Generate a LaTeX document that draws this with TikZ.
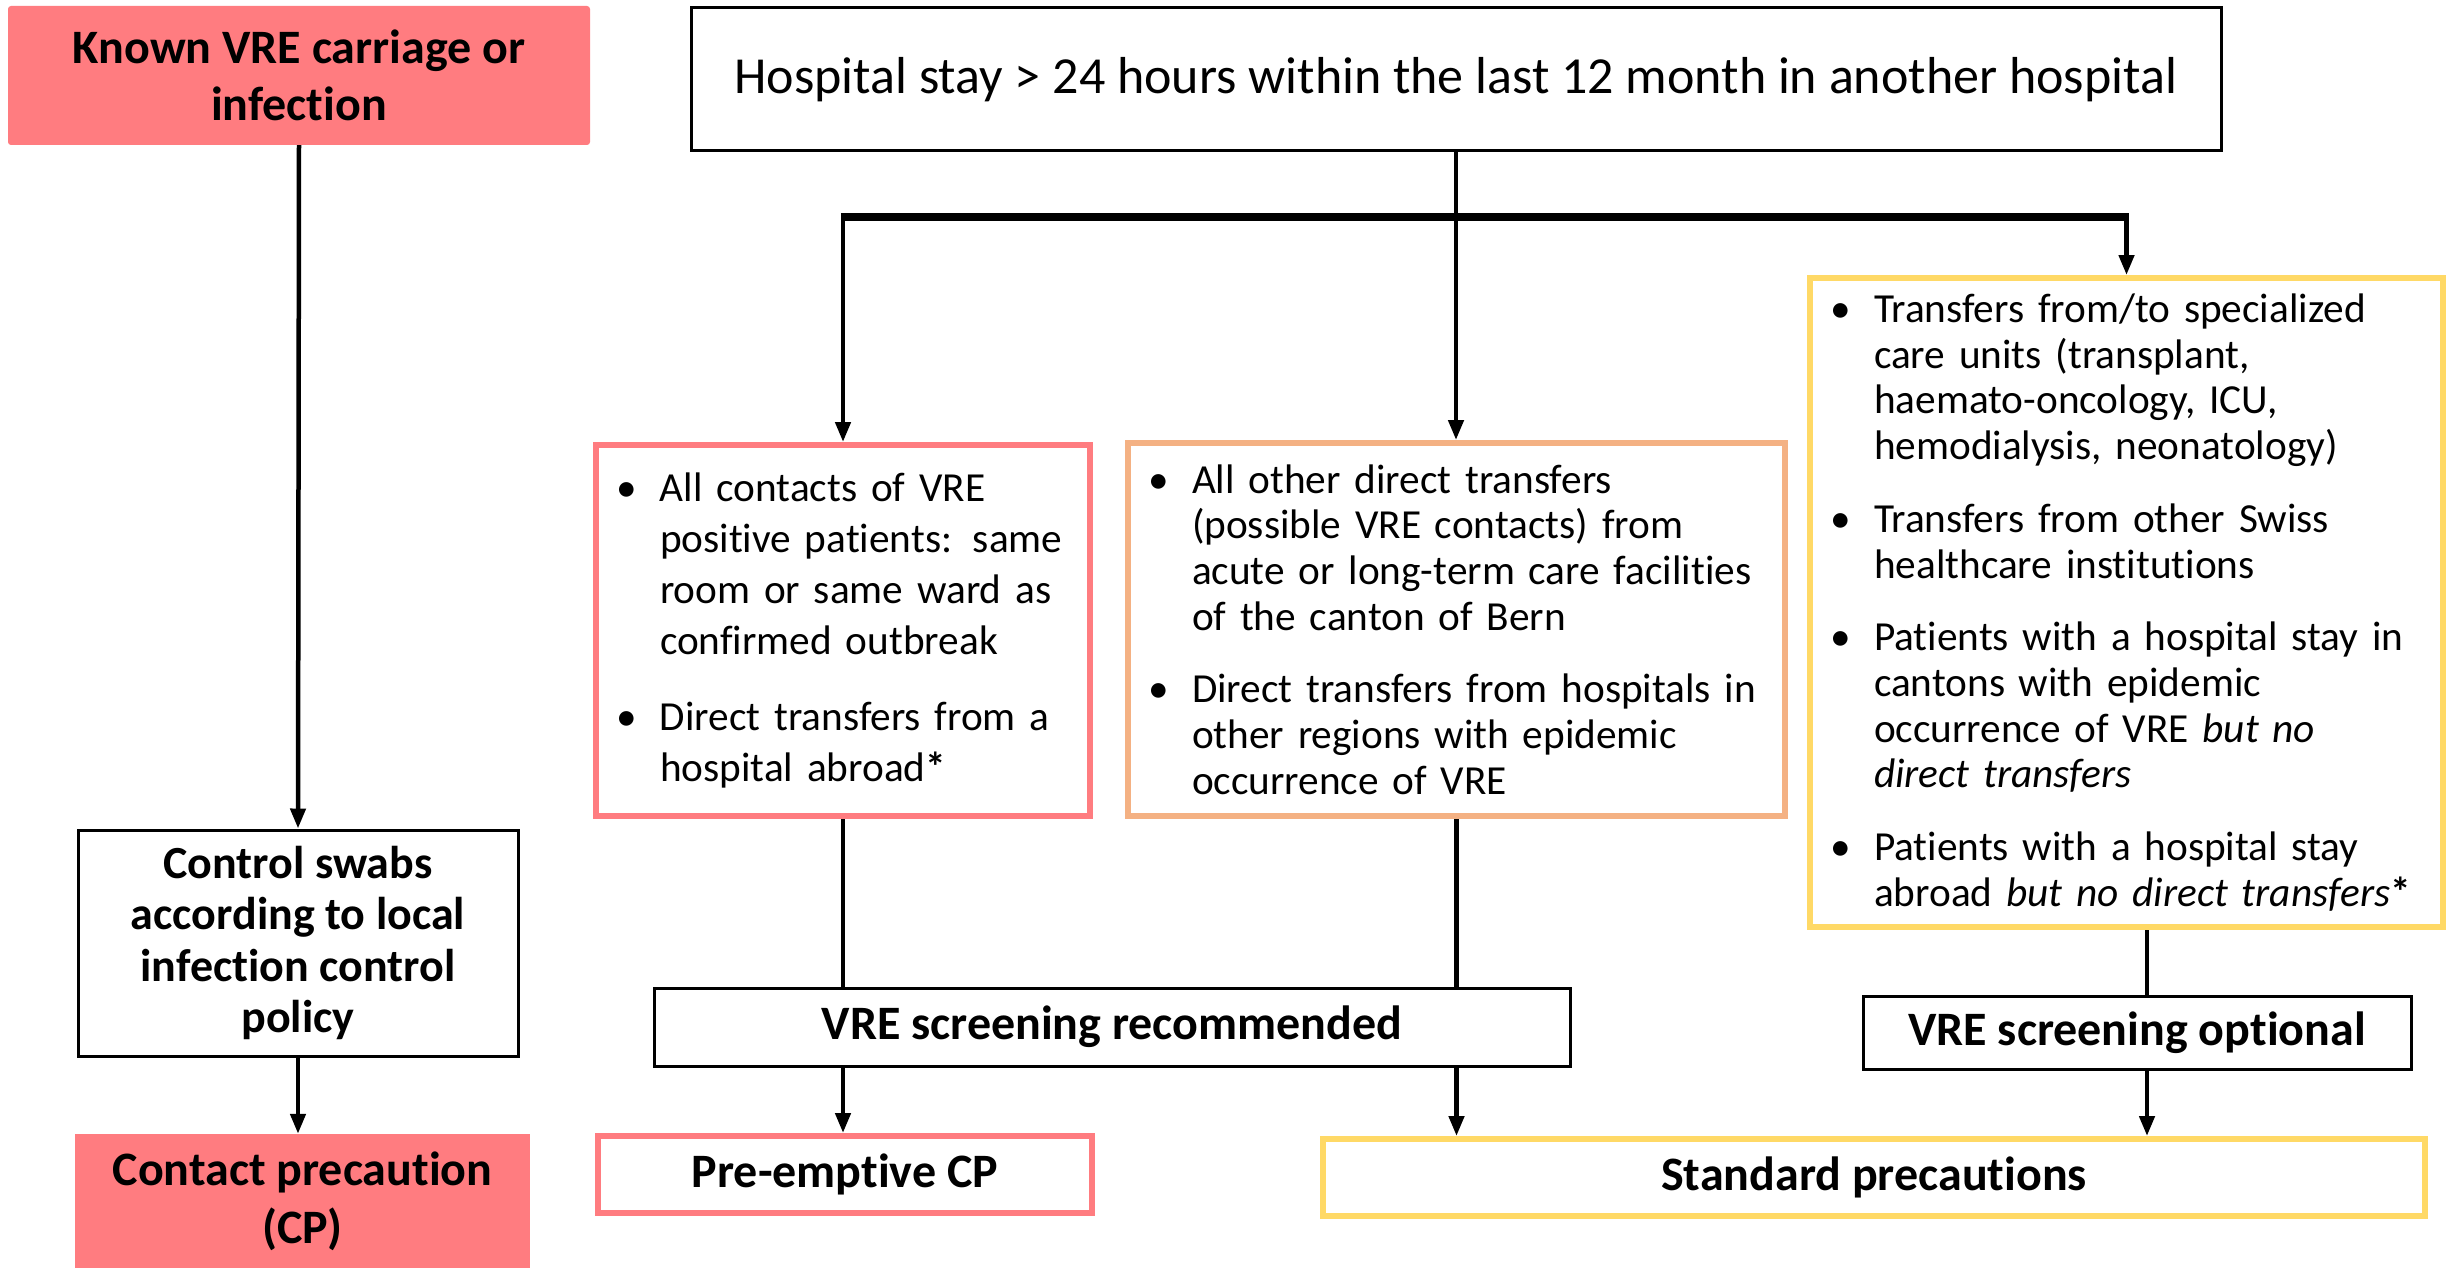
\documentclass[tikz,border=0pt]{standalone}
\usepackage{fontspec}
\setmainfont{Carlito}[Ligatures=NoCommon]
\usetikzlibrary{arrows.meta}
\definecolor{salmon}{HTML}{FF7C80}
\definecolor{peach}{HTML}{F4B183}
\definecolor{gold}{HTML}{FFD966}
\newcommand\bpt{\makebox[44pt][l]{\textbullet}}
\newcommand\ind{\hspace*{44pt}}
\begin{document}
\begin{tikzpicture}[x=1pt,y=-1pt,
  blackbox/.style={draw=black,line width=3pt,inner sep=0pt,align=center},
  fillbox/.style={fill=salmon,inner sep=0pt,align=center},
  listbox/.style={line width=6pt,inner xsep=20pt,inner ysep=0pt,align=left,
    font=\fontsize{41.3}{45.7}\selectfont},
  titlef/.style={font=\bfseries\fontsize{48}{57}\selectfont},
  conn/.style={line width=4.5pt},
  barline/.style={line width=8pt},
  arr/.style={line width=4.5pt,-{Triangle[length=20pt,width=15pt]}},
]
\useasboundingbox (0,0) rectangle (2446,1268);
\fill[white] (0,0) rectangle (2446,1268);

% left column
\node[fillbox,titlef,rounded corners=3pt,minimum width=582pt,minimum height=139pt] (known) at (299,75.5)
  {Known VRE carriage or\\infection};
\node[blackbox,font=\bfseries\fontsize{46}{51.5}\selectfont,minimum width=440pt,minimum height=226pt] (ctrl) at (298,943)
  {Control swabs\\according to local\\infection control\\policy};
\node[fillbox,font=\bfseries\fontsize{48}{58}\selectfont,minimum width=455pt,minimum height=134pt] (cp) at (302.5,1201)
  {Contact precaution\\(CP)};

% top
\node[blackbox,font=\fontsize{52}{60}\selectfont,minimum width=1530pt,minimum height=143pt] (hosp) at (1456,79.5)
  {Hospital stay > 24 hours within the last 12 month in another hospital};

% criteria boxes
\node[listbox,draw=salmon,minimum width=494pt,minimum height=371pt,text width=454pt,
  font=\fontsize{41.3}{51}\selectfont] (red) at (843,630.5)
  {\bpt All contacts of VRE\\\ind positive patients: same\\\ind room or same ward as\\\ind confirmed outbreak\\[25pt]
   \bpt Direct transfers from a\\\ind hospital abroad\textbf{*}};
\node[listbox,draw=peach,minimum width=657pt,minimum height=373pt,text width=617pt] (orange) at (1456.5,629.5)
  {\bpt All other direct transfers\\\ind (possible VRE contacts) from\\\ind acute or long-term care facilities\\\ind of the canton of Bern\\[27pt]
   \bpt Direct transfers from hospitals in\\\ind other regions with epidemic\\\ind occurrence of VRE};
\node[listbox,draw=gold,minimum width=633pt,minimum height=649pt,text width=593pt] (yellow) at (2126.5,602.5)
  {\bpt Transfers from/to specialized\\\ind care units (transplant,\\\ind haemato-oncology, ICU,\\\ind hemodialysis, neonatology)\\[27pt]
   \bpt Transfers from other Swiss\\\ind healthcare institutions\\[27pt]
   \bpt Patients with a hospital stay in\\\ind cantons with epidemic\\\ind occurrence of VRE \textit{but no}\\\ind \textit{direct transfers}\\[27pt]
   \bpt Patients with a hospital stay\\\ind abroad \textit{but no direct transfers}\textbf{*}};

% screening boxes
\node[blackbox,titlef,minimum width=916pt,minimum height=78pt] (scrrec) at (1112,1027)
  {VRE screening recommended};
\node[blackbox,titlef,minimum width=548pt,minimum height=73pt] (scropt) at (2137,1032.5)
  {VRE screening optional};

% outcome boxes
\node[draw=salmon,line width=6pt,titlef,inner sep=0pt,minimum width=494pt,minimum height=77pt] (pre) at (845,1174.5)
  {Pre-emptive CP};
\node[draw=gold,line width=6pt,titlef,inner sep=0pt,minimum width=1102pt,minimum height=77pt] (std) at (1874,1177.5)
  {Standard precautions};

% connectors
\coordinate (barL) at (843,217);
\coordinate (barR) at (2126.5,217);
\coordinate (optx) at ([xshift=10pt]scropt.north);

\draw[arr] (known.south) -- (ctrl.north);
\draw[arr] (ctrl.south) -- (ctrl.south |- cp.north);

\draw[barline] ([xshift=-2.25pt]barL) -- ([xshift=2.25pt]barR);
\draw[arr] (hosp.south) -- (hosp.south |- orange.north);
\draw[arr] (barL) -- (red.north);
\draw[arr] (barR) -- (yellow.north);

\draw[conn] (red.south) -- (red.south |- scrrec.north);
\draw[conn] (orange.south) -- (orange.south |- scrrec.north);
\draw[arr] (red.south |- scrrec.south) -- (red.south |- pre.north);
\draw[arr] (orange.south |- scrrec.south) -- (orange.south |- std.north);

\draw[conn] (optx |- yellow.south) -- (optx);
\draw[arr] (optx |- scropt.south) -- (optx |- std.north);
\end{tikzpicture}
\end{document}
